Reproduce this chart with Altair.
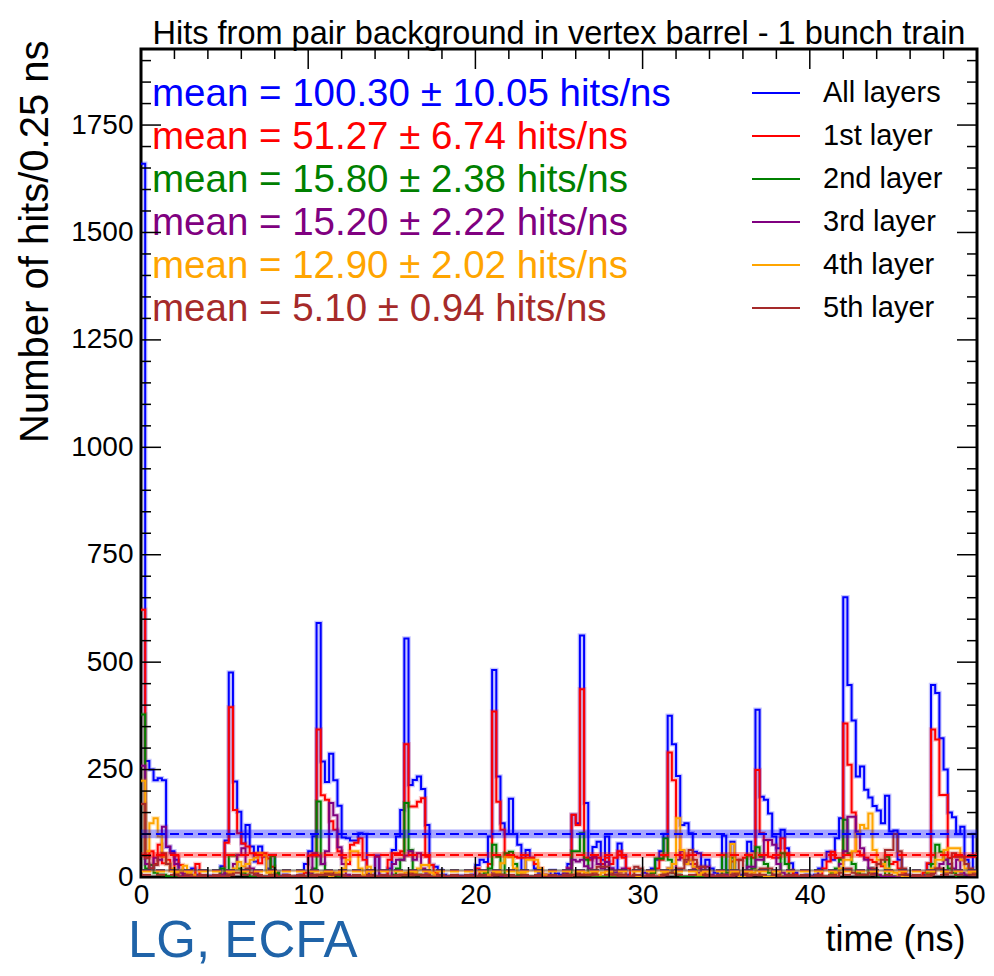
import altair as alt
import pandas as pd

TITLE = "Hits from pair background in vertex barrel - 1 bunch train"
SERIES = ["All layers", "1st layer", "2nd layer", "3rd layer", "4th layer", "5th layer"]
COLORS = ["#0000FF", "#FF0000", "#008000", "#800080", "#FFA500", "#A52A2A"]
MEANS = [100.30, 51.27, 15.80, 15.20, 12.90, 5.10]
ERRS = [10.05, 6.74, 2.38, 2.22, 2.02, 0.94]
BIN_WIDTH = 0.25
X_MAX = 50
Y_MAX = 1927
X_TICKS = [0, 10, 20, 30, 40, 50]
Y_TICKS = [0, 250, 500, 750, 1000, 1250, 1500, 1750]

all_layers = [
    1660, 270, 250, 225, 230, 225, 70, 60, 40, 15, 8, 3, 20, 5, 2, 2, 3, 2, 2, 25,
    85, 476, 222, 152, 78, 121, 71, 36, 71, 47, 20, 50, 10, 3, 5, 0, 0, 2, 5, 30,
    60, 95, 591, 269, 221, 287, 225, 166, 92, 90, 85, 85, 102, 100, 8, 3, 50, 2, 3, 20,
    63, 94, 156, 555, 214, 226, 234, 205, 121, 28, 24, 16, 5, 2, 0, 0, 3, 0, 0, 5,
    28, 40, 35, 94, 482, 234, 125, 100, 182, 100, 75, 16, 63, 45, 20, 10, 5, 0, 15, 8,
    5, 10, 30, 145, 125, 562, 172, 45, 70, 82, 40, 94, 20, 10, 78, 50, 5, 0, 0, 2,
    10, 5, 20, 40, 60, 100, 375, 309, 235, 121, 125, 102, 59, 55, 16, 40, 20, 10, 5, 96,
    16, 82, 10, 5, 10, 82, 60, 389, 187, 180, 148, 94, 67, 110, 67, 32, 10, 0, 2, 5,
    3, 5, 20, 40, 59, 40, 90, 137, 651, 447, 364, 234, 257, 203, 185, 165, 155, 125, 189, 106,
    108, 40, 16, 5, 2, 0, 0, 5, 30, 447, 428, 323, 250, 150, 139, 100, 117, 40, 15, 100,
]
layer1 = [
    622, 45, 60, 30, 75, 32, 40, 16, 50, 28, 5, 0, 0, 30, 0, 0, 0, 0, 0, 5,
    80, 395, 156, 102, 78, 71, 55, 55, 32, 55, 43, 24, 5, 0, 0, 0, 0, 0, 2, 10,
    50, 50, 343, 190, 180, 130, 110, 60, 45, 30, 75, 80, 90, 40, 0, 0, 0, 0, 0, 40,
    55, 55, 60, 309, 164, 164, 175, 183, 47, 28, 10, 0, 0, 0, 0, 0, 0, 0, 0, 0,
    20, 0, 0, 30, 385, 175, 110, 50, 47, 47, 45, 45, 45, 45, 30, 20, 5, 0, 0, 0,
    0, 5, 20, 145, 121, 437, 45, 40, 45, 45, 30, 45, 30, 45, 60, 45, 20, 0, 0, 0,
    0, 5, 10, 20, 40, 50, 290, 225, 100, 45, 50, 40, 30, 20, 5, 0, 0, 0, 0, 5,
    5, 36, 40, 40, 45, 50, 45, 249, 102, 86, 47, 45, 45, 90, 55, 16, 5, 0, 0, 0,
    0, 0, 5, 20, 36, 59, 44, 44, 357, 261, 150, 60, 50, 45, 40, 35, 30, 25, 40, 30,
    35, 20, 10, 0, 0, 0, 0, 10, 32, 343, 320, 191, 191, 44, 47, 47, 40, 47, 47, 47,
]
layer2 = [
    378, 20, 28, 10, 5, 5, 2, 0, 0, 0, 0, 0, 0, 0, 0, 0, 0, 0, 0, 20,
    5, 50, 50, 20, 10, 5, 0, 0, 0, 0, 0, 49, 10, 0, 0, 0, 0, 0, 0, 0,
    5, 20, 176, 30, 10, 5, 5, 0, 0, 0, 0, 0, 0, 0, 0, 0, 0, 0, 0, 0,
    5, 20, 40, 172, 63, 10, 5, 0, 0, 0, 0, 0, 0, 0, 0, 0, 0, 0, 0, 0,
    0, 5, 10, 20, 75, 47, 5, 55, 59, 30, 5, 0, 0, 0, 0, 0, 0, 0, 0, 0,
    0, 0, 5, 60, 60, 102, 40, 5, 0, 0, 0, 0, 0, 0, 0, 0, 0, 0, 0, 0,
    0, 0, 10, 43, 43, 90, 40, 10, 5, 0, 0, 0, 0, 0, 0, 0, 0, 0, 0, 51,
    10, 45, 10, 0, 0, 51, 20, 69, 47, 30, 10, 0, 0, 55, 30, 0, 0, 0, 0, 0,
    0, 0, 0, 0, 0, 10, 20, 40, 133, 55, 30, 10, 5, 5, 20, 10, 0, 0, 47, 0,
    0, 0, 0, 0, 0, 0, 0, 0, 10, 30, 75, 59, 40, 20, 10, 0, 0, 5, 0, 0,
]
layer3 = [
    259, 30, 20, 45, 40, 117, 71, 55, 30, 10, 5, 2, 0, 0, 0, 0, 0, 0, 0, 5,
    10, 10, 30, 51, 67, 30, 20, 10, 0, 0, 0, 0, 0, 0, 0, 0, 0, 0, 0, 0,
    10, 55, 50, 30, 60, 172, 144, 69, 30, 5, 0, 0, 0, 0, 0, 0, 47, 0, 0, 0,
    30, 40, 40, 50, 60, 40, 55, 20, 10, 0, 0, 0, 0, 0, 0, 0, 0, 0, 0, 0,
    0, 0, 0, 0, 10, 5, 0, 0, 0, 0, 0, 0, 0, 0, 0, 0, 0, 0, 0, 0,
    0, 0, 20, 40, 36, 40, 25, 20, 47, 30, 20, 35, 20, 15, 10, 20, 0, 0, 0, 0,
    0, 0, 0, 0, 0, 10, 20, 15, 40, 60, 35, 30, 20, 10, 24, 24, 5, 0, 0, 5,
    5, 10, 5, 0, 0, 24, 24, 40, 40, 86, 86, 75, 30, 10, 5, 0, 0, 0, 0, 0,
    0, 0, 0, 0, 0, 0, 10, 30, 60, 140, 140, 106, 67, 40, 20, 10, 5, 0, 0, 0,
    0, 0, 0, 0, 0, 0, 0, 0, 0, 10, 20, 30, 40, 30, 20, 40, 10, 5, 0, 0,
]
layer4 = [
    224, 60, 125, 137, 94, 47, 30, 20, 10, 15, 26, 10, 5, 0, 0, 0, 0, 0, 0, 0,
    0, 10, 20, 35, 25, 30, 40, 45, 55, 50, 10, 5, 0, 0, 0, 0, 0, 0, 0, 0,
    0, 0, 5, 10, 5, 0, 10, 10, 20, 40, 60, 60, 20, 5, 24, 0, 0, 0, 0, 0,
    0, 0, 5, 10, 5, 10, 20, 28, 28, 10, 5, 0, 0, 0, 0, 0, 0, 0, 0, 0,
    0, 0, 0, 5, 5, 10, 32, 47, 47, 20, 10, 10, 40, 40, 40, 20, 5, 0, 0, 0,
    0, 0, 0, 5, 10, 5, 10, 5, 15, 5, 10, 5, 5, 5, 5, 5, 0, 0, 0, 0,
    0, 0, 0, 0, 5, 10, 20, 30, 137, 63, 30, 40, 24, 5, 10, 5, 0, 0, 0, 0,
    0, 77, 10, 0, 0, 5, 10, 15, 5, 0, 0, 0, 5, 0, 0, 0, 0, 0, 0, 0,
    0, 0, 0, 0, 0, 5, 10, 20, 40, 40, 60, 100, 121, 113, 148, 63, 40, 30, 20, 15,
    10, 5, 0, 0, 0, 0, 0, 0, 5, 20, 40, 40, 63, 67, 67, 67, 40, 20, 10, 5,
]
layer5 = [
    170, 45, 20, 28, 50, 55, 30, 15, 5, 0, 0, 0, 0, 0, 0, 0, 0, 0, 0, 0,
    0, 5, 10, 10, 15, 20, 10, 5, 0, 0, 0, 0, 0, 0, 0, 0, 0, 0, 0, 0,
    0, 0, 5, 5, 10, 10, 5, 5, 0, 0, 0, 0, 0, 0, 0, 0, 0, 0, 0, 0,
    0, 0, 5, 5, 10, 5, 5, 0, 0, 0, 0, 0, 0, 0, 0, 0, 0, 0, 0, 0,
    0, 0, 0, 0, 5, 5, 5, 0, 0, 0, 0, 0, 0, 0, 0, 0, 0, 0, 0, 0,
    0, 0, 0, 5, 10, 5, 5, 5, 10, 24, 24, 24, 10, 5, 0, 0, 0, 0, 24, 20,
    0, 0, 0, 0, 0, 5, 10, 10, 20, 20, 40, 63, 40, 24, 24, 0, 0, 0, 0, 0,
    0, 0, 10, 40, 10, 0, 5, 5, 20, 20, 20, 5, 0, 0, 0, 0, 0, 0, 0, 0,
    0, 0, 0, 0, 0, 0, 0, 10, 20, 20, 10, 5, 5, 5, 10, 20, 30, 40, 63, 63,
    100, 60, 20, 5, 0, 0, 0, 0, 0, 10, 20, 20, 10, 10, 55, 47, 47, 30, 20, 10,
]
SERIES_VALUES = [all_layers, layer1, layer2, layer3, layer4, layer5]

# ---------------- layout ----------------
W, H = 836, 828
FONT = "Liberation Sans"

rows = []
for name, vals in zip(SERIES, SERIES_VALUES):
    for i, v in enumerate(vals):
        rows.append({"series": name, "t": i * BIN_WIDTH, "n": v})
    rows.append({"series": name, "t": len(vals) * BIN_WIDTH, "n": vals[-1]})
hist = pd.DataFrame(rows)

means = pd.DataFrame({"series": SERIES, "mean": MEANS, "err": ERRS, "col": COLORS})
means["lo"] = means["mean"] - means["err"]
means["hi"] = means["mean"] + means["err"]

xs = alt.Scale(domain=[0, X_MAX], nice=False, zero=False)
ys = alt.Scale(domain=[0, Y_MAX], nice=False, zero=False)

x_main = alt.X("t:Q", scale=xs, axis=alt.Axis(
    values=X_TICKS, format="d", title="time (ns)", titleFont=FONT, titleFontSize=36,
    titleFontWeight="normal", titleAlign="right", titleX=824, titleY=73,
    titleBaseline="alphabetic", labelFlush=False, labelPadding=4,
    labelAlign=alt.condition(f"datum.value == {X_MAX}", alt.value("right"), alt.value("center")),
    labelOffset=alt.condition(f"datum.value == {X_MAX}", alt.value(8), alt.value(0)),
    labelFontSize=28, labelFont=FONT))
y_main = alt.Y("n:Q", scale=ys, axis=alt.Axis(
    values=Y_TICKS, format="d", title="Number of hits/0.25 ns", titleFont=FONT,
    titleFontSize=40, titleFontWeight="normal", titleAngle=270,
    titleAlign="right", titleBaseline="middle", titleX=-106, titleY=-9,
    labelPadding=8, labelFontSize=28, labelFont=FONT))

# axis carrier layer (invisible)
axis_layer = alt.Chart(hist).mark_line(opacity=0).encode(x=x_main, y=y_main, detail="series:N")

X_T = alt.X("t:Q", scale=xs)
Y_N = alt.Y("n:Q", scale=ys)

layers = []
for k, name in enumerate(SERIES):
    base = alt.Chart(hist).transform_filter(alt.datum.series == name)
    layers.append(base.mark_line(interpolate="step-after", strokeWidth=4.5,
                                 opacity=0.22, clip=True, color=COLORS[k])
                  .encode(x=X_T, y=Y_N))
    layers.append(base.mark_line(interpolate="step-after", strokeWidth=2, clip=True,
                                 color=COLORS[k])
                  .encode(x=X_T, y=Y_N))

bands = alt.Chart(means).mark_rect(opacity=0.35).encode(
    y=alt.Y("lo:Q", scale=ys), y2="hi:Q",
    color=alt.Color("col:N", scale=None))
mean_lines = alt.Chart(means).mark_rule(strokeWidth=2, strokeDash=[9, 5]).encode(
    y=alt.Y("mean:Q", scale=ys),
    color=alt.Color("col:N", scale=None))

annot = []
for k in range(len(SERIES)):
    lbl = f"mean = {MEANS[k]:.2f} \u00b1 {ERRS[k]:.2f} hits/ns"
    row_y = 45 + 43 * k
    one = alt.Chart(pd.DataFrame({"s": [lbl], "name": [SERIES[k]]}))
    # mean text (top left)
    annot.append(one.mark_text(align="left", baseline="middle", font=FONT,
                               fontSize=38.5, color=COLORS[k])
                 .encode(x=alt.value(11), y=alt.value(row_y), text="s:N"))
    # legend entry (top right)
    annot.append(one.mark_rule(strokeWidth=2.2, color=COLORS[k])
                 .encode(x=alt.value(611), x2=alt.value(659), y=alt.value(row_y - 1)))
    annot.append(one.mark_text(align="left", baseline="middle", font=FONT,
                               fontSize=29, color="black")
                 .encode(x=alt.value(682), y=alt.value(row_y - 1), text="name:N"))

# inside ticks on all four sides
y_major = pd.DataFrame({"v": list(range(0, Y_MAX, 250))})
y_minor = pd.DataFrame({"v": [v for v in range(0, Y_MAX, 50) if v % 250]})
x_major = pd.DataFrame({"v": list(range(0, X_MAX + 1, 10))})
x_minor = pd.DataFrame({"v": [v for v in range(0, X_MAX + 1, 2) if v % 10]})

def yticks(df, ln):
    ya = alt.Y("v:Q", scale=ys)
    l = alt.Chart(df).mark_rule(color="black", strokeWidth=1.5).encode(
        y=ya, x=alt.value(0), x2=alt.value(ln))
    r = alt.Chart(df).mark_rule(color="black", strokeWidth=1.5).encode(
        y=ya, x=alt.value(W), x2=alt.value(W - ln))
    return [l, r]

def xticks(df, ln):
    xa = alt.X("v:Q", scale=xs)
    b = alt.Chart(df).mark_rule(color="black", strokeWidth=1.5).encode(
        x=xa, y=alt.value(H), y2=alt.value(H - ln))
    t = alt.Chart(df).mark_rule(color="black", strokeWidth=1.5).encode(
        x=xa, y=alt.value(0), y2=alt.value(ln))
    return [b, t]

ticks = yticks(y_major, 20) + yticks(y_minor, 10) + xticks(x_major, 20) + xticks(x_minor, 10)

title_layer = alt.Chart(pd.DataFrame({"s": [TITLE]})).mark_text(
    align="center", baseline="alphabetic", font=FONT, fontSize=32.5,
    color="black").encode(x=alt.value(W / 2), y=alt.value(-5), text="s:N")

credit = alt.Chart(pd.DataFrame({"s": ["LG, ECFA"]})).mark_text(
    align="left", baseline="alphabetic", font=FONT, fontSize=51,
    color="#1F63A8").encode(x=alt.value(-13), y=alt.value(908), text="s:N")

chart = alt.layer(axis_layer, *layers, bands, mean_lines, *annot, *ticks,
                  title_layer, credit).properties(
    width=W, height=H,
    autosize=alt.AutoSizeParams(type="none"),
    padding={"left": 133, "top": 41, "right": 9, "bottom": 91},
).configure_view(stroke="black", strokeWidth=3).configure_axis(
    ticks=False, domain=False, grid=False, labelColor="black", titleColor="black",
    labelFont=FONT, labelFontSize=28
)

chart.save("out.html", embed_options={"renderer": "svg", "actions": False})
